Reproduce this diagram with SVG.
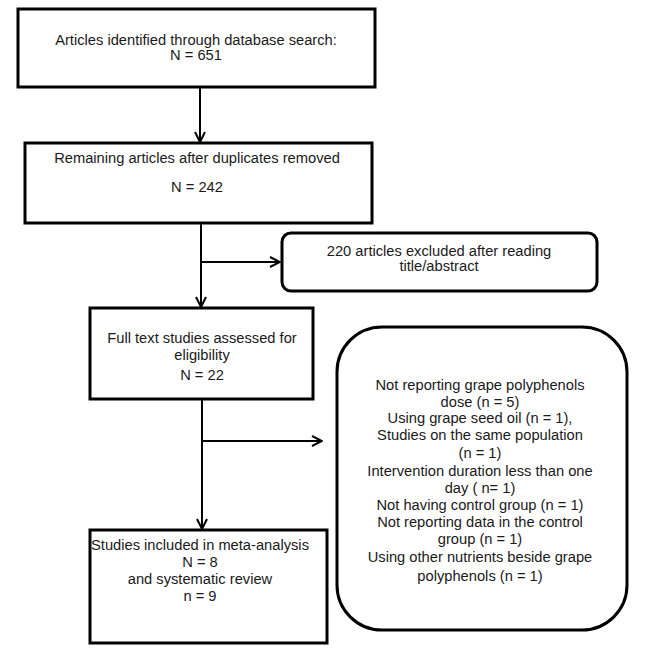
<svg xmlns="http://www.w3.org/2000/svg" width="654" height="656" viewBox="0 0 654 656">
<defs>
<marker id="arr" viewBox="0 0 12 12" refX="11" refY="6" markerWidth="12" markerHeight="12" markerUnits="userSpaceOnUse" orient="auto">
<path d="M1,1 L11,6 L1,11" fill="none" stroke="#000" stroke-width="2"/>
</marker>
<style>
.box{fill:#fff;stroke:#000;stroke-width:3}
.conn{fill:none;stroke:#000;stroke-width:2}
text{font-family:"Liberation Sans",Arial,sans-serif;font-size:14.7px;fill:#1a1a1a;text-anchor:middle}
</style>
</defs>
<rect width="654" height="656" fill="#fff"/>
<g id="connectors">
<line class="conn" x1="200" y1="87" x2="200" y2="142" marker-end="url(#arr)"/>
<line class="conn" x1="201" y1="223" x2="201" y2="307" marker-end="url(#arr)"/>
<line class="conn" x1="201" y1="262" x2="280" y2="262" marker-end="url(#arr)"/>
<line class="conn" x1="202" y1="399" x2="202" y2="529" marker-end="url(#arr)"/>
<line class="conn" x1="202" y1="441" x2="322" y2="441" marker-end="url(#arr)"/>
</g>
<g id="n1">
<rect class="box" x="18" y="9" width="357" height="78"/>
<text x="196" y="45">Articles identified through database search:</text>
<text x="196" y="60">N = 651</text>
</g>
<g id="n2">
<rect class="box" x="25" y="143" width="347" height="80"/>
<text x="197" y="163">Remaining articles after duplicates removed</text>
<text x="197" y="192">N = 242</text>
</g>
<g id="n3">
<rect class="box" x="282" y="233" width="315" height="58" rx="9"/>
<text x="439" y="256">220 articles excluded after reading</text>
<text x="439" y="271">title/abstract</text>
</g>
<g id="n4">
<rect class="box" x="90" y="308" width="223" height="91"/>
<text x="202" y="343">Full text studies assessed for</text>
<text x="202" y="360">eligibility</text>
<text x="202" y="380">N = 22</text>
</g>
<g id="n5">
<rect class="box" x="337" y="327" width="290" height="303" rx="45"/>
<text x="480" y="390">Not reporting grape polyphenols</text>
<text x="480" y="407">dose (n = 5)</text>
<text x="480" y="423">Using grape seed oil (n = 1),</text>
<text x="480" y="440">Studies on the same population</text>
<text x="480" y="458">(n = 1)</text>
<text x="480" y="476">Intervention duration less than one</text>
<text x="480" y="493">day ( n= 1)</text>
<text x="480" y="510">Not having control group (n = 1)</text>
<text x="480" y="527">Not reporting data in the control</text>
<text x="480" y="544">group (n = 1)</text>
<text x="480" y="562">Using other nutrients beside grape</text>
<text x="480" y="581">polyphenols (n = 1)</text>
</g>
<g id="n6">
<rect class="box" x="90" y="530" width="237" height="113"/>
<text x="200" y="550">Studies included in meta-analysis</text>
<text x="200" y="567">N = 8</text>
<text x="200" y="584">and systematic review</text>
<text x="200" y="601">n = 9</text>
</g>
</svg>
